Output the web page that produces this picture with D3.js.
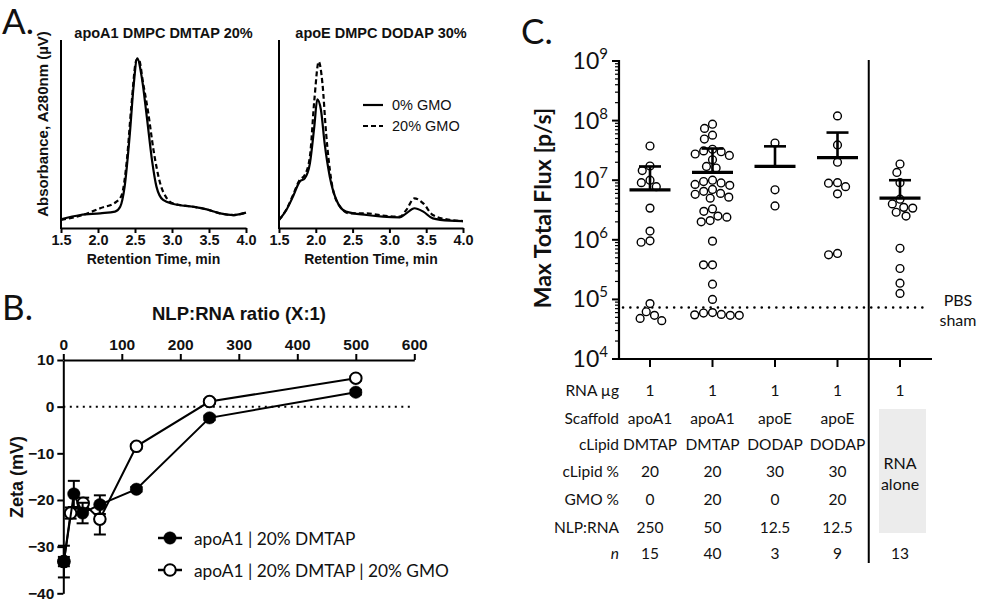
<!DOCTYPE html>
<html><head><meta charset="utf-8">
<script src="https://cdn.jsdelivr.net/npm/d3@7"></script>
<style>body{margin:0;background:#fff} svg{display:block}</style>
</head><body>
<svg id="fig" width="981" height="603"></svg>
<script>
// ---------------- DATA ----------------
// Panel A: chromatograms (retention time, min ; absorbance, arbitrary units)
const a1SolidT = [1.5,1.76,2.03,2.23,2.30,2.36,2.43,2.48,2.53,2.59,2.66,2.73,2.79,2.88,3.02,3.29,3.47,3.65,3.83,4.0];
const a1SolidV = [4.6,6.9,7.8,8.7,11.3,22,50,75,90.2,80.5,59,36,22,14.9,12.8,11.3,9.9,7.8,6.9,8.2];
const a1DashT  = [1.5,1.76,2.03,2.25,2.32,2.39,2.45,2.52,2.55,2.61,2.68,2.75,2.84,2.93,3.02,3.29,3.47,3.65,3.83,4.0];
const a1DashV  = [4.3,6.5,10.5,14,17.5,36,64.5,89.4,89.8,77,61,41.5,23.8,15.8,13,11.3,9.9,7.8,6.9,8.2];
const eSolidT = [1.5,1.6,1.69,1.78,1.85,1.92,1.98,2.02,2.07,2.12,2.19,2.28,2.41,2.69,2.91,3.14,3.23,3.34,3.46,3.59,3.82,4.0];
const eSolidV = [4.3,9.6,16.7,24.6,26.4,34.4,54,68.4,62.8,45,27.3,14.9,8.7,6.9,6.0,5.7,7.8,10.5,8.7,5.1,3.9,3.7];
const eDashT  = [1.5,1.6,1.69,1.78,1.85,1.92,1.98,2.04,2.09,2.14,2.21,2.30,2.46,2.69,2.91,3.14,3.23,3.34,3.46,3.59,3.82,4.0];
const eDashV  = [4.3,9.8,17.5,25.5,28.2,38,68,88.5,77,50.4,25.5,13.1,7.8,7.8,6.6,6.0,9.6,15.8,13.1,6.9,4.3,3.7];
const timeTicks = [1.5,2.0,2.5,3.0,3.5,4.0];

// Panel B: zeta potential vs NLP:RNA ratio
const ratioFilled = [1, 18, 33, 62.5, 125, 250, 500];
const zetaFilled  = [-33.2, -18.7, -22.8, -21.0, -17.7, -2.4, 3.1];
const errFilled   = [3.4, 2.8, 2.2, 2.0, 0.5, 0.5, 0.5];
const ratioOpen   = [1, 12.5, 34, 62.5, 125, 250, 500];
const zetaOpen    = [-33.2, -22.8, -20.7, -24.1, -8.5, 1.1, 6.1];
const errOpen     = [1.0, 1.2, 1.2, 3.3, 0.5, 0.5, 0.5];
const ratioTicks = [0,100,200,300,400,500,600];
const zetaTicks  = [10,0,-10,-20,-30,-40];

// Panel C: max total flux per group
const groupNames = ["apoA1 DMTAP 0%GMO","apoA1 DMTAP 20%GMO","apoE DODAP 0%GMO","apoE DODAP 20%GMO","RNA alone"];
const fluxG1 = [3.75e7,1.73e7,1.45e7,1.0e7,9.1e6,7.8e6,3.4e6,1.4e6,9.1e5,9.6e5,8.5e4,5.4e4,4.4e4,4.8e4,6.2e4];
const fluxG2 = [8.7e7,7.4e7,5.7e7,4.9e7,3.3e7,3.1e7,3.0e7,2.75e7,2.6e7,2.2e7,1.7e7,1.6e7,
                1.0e7,9.5e6,9e6,8.5e6,8.2e6,7e6,6.5e6,6e6,5.8e6,5.2e6,5e6,3.3e6,3e6,2.5e6,2.4e6,2.1e6,2e6,
                9.5e5,3.8e5,3.8e5,1.8e5,1.0e5,6e4,5.6e4,5.4e4,5.4e4,5.5e4,5.9e4];
const fluxG3 = [4.2e7,6.9e6,3.7e6];
const fluxG4 = [1.2e8,3.9e7,2.0e7,9.1e6,8.9e6,7.8e6,5.9e6,5.9e5,5.6e5];
const fluxG5 = [1.87e7,1.35e7,9.1e6,4.8e6,4.0e6,3.5e6,3.4e6,2.9e6,2.5e6,7.2e5,3.3e5,1.87e5,1.26e5];
const fluxMean  = [6.9e6,1.35e7,1.7e7,2.4e7,5.0e6];
const fluxUpper = [1.7e7,3.4e7,3.7e7,6.3e7,1.0e7];
const pbsSham = 7.3e4;
const fluxExps = [4,5,6,7,8,9];

// Panel C table
const rowLabels = ["RNA µg","Scaffold","cLipid","cLipid %","GMO %","NLP:RNA","n"];
const rowRNA      = ["1","1","1","1","1"];
const rowScaffold = ["apoA1","apoA1","apoE","apoE",""];
const rowClipid   = ["DMTAP","DMTAP","DODAP","DODAP",""];
const rowClipidPc = ["20","20","30","30",""];
const rowGMO      = ["0","20","0","20",""];
const rowNLP      = ["250","50","12.5","12.5",""];
const rowN        = ["15","40","3","9","13"];

// ---------------- DRAWING ----------------
const svg = d3.select("#fig");
const ARIAL = "'Liberation Sans', Arial, sans-serif";
const CAL = "Lato, 'Open Sans', sans-serif";

function panelLetter(t, x, y) {
  svg.append("text").attr("x", x).attr("y", y).text(t)
    .attr("font-family", CAL).attr("font-size", 35).attr("fill", "#111");
}

// ---- Panel A ----
panelLetter("A.", 2, 34);
const yA = d3.scaleLinear().domain([0,100]).range([228,40]);
function chromPanel(x0, x1, title, solidT, solidV, dashT, dashV) {
  const x = d3.scaleLinear().domain([1.5,4.0]).range([x0,x1]);
  const g = svg.append("g");
  const ax = g.append("g").attr("transform", `translate(0,${yA(0)})`)
    .call(d3.axisBottom(x).tickValues(timeTicks).tickFormat(d3.format(".1f")).tickSize(5).tickPadding(2).tickSizeOuter(0));
  ax.select(".domain").attr("stroke-width", 2);
  ax.selectAll(".tick line").attr("stroke-width", 2);
  ax.selectAll("text").attr("font-family", ARIAL).attr("font-weight", "bold").attr("font-size", 14.5).attr("fill","#111");
  g.append("line").attr("x1", x0).attr("x2", x0).attr("y1", yA(100)).attr("y2", yA(0)+1)
    .attr("stroke", "#000").attr("stroke-width", 2);
  const line = d3.line().curve(d3.curveMonotoneX);
  g.append("path").attr("d", line(dashT.map((t,i)=>[x(t), yA(dashV[i])])))
    .attr("fill","none").attr("stroke","#000").attr("stroke-width",2.2).attr("stroke-dasharray","5,3");
  g.append("path").attr("d", line(solidT.map((t,i)=>[x(t), yA(solidV[i])])))
    .attr("fill","none").attr("stroke","#000").attr("stroke-width",2.2);
  g.append("text").attr("x", (x0+x1)/2+10).attr("y", 38).attr("text-anchor","middle").text(title)
    .attr("font-family", ARIAL).attr("font-weight","bold").attr("font-size",14.5).attr("fill","#111");
  g.append("text").attr("x", (x0+x1)/2).attr("y", 264).attr("text-anchor","middle").text("Retention Time, min")
    .attr("font-family", ARIAL).attr("font-weight","bold").attr("font-size",14).attr("fill","#111");
  return x;
}
chromPanel(61, 246, "apoA1 DMPC DMTAP 20%", a1SolidT, a1SolidV, a1DashT, a1DashV);
chromPanel(279, 463, "apoE DMPC DODAP 30%", eSolidT, eSolidV, eDashT, eDashV);
svg.append("text").attr("transform","translate(48,124) rotate(-90)").attr("text-anchor","middle")
  .text("Absorbance, A280nm (µV)").attr("font-family", ARIAL).attr("font-weight","bold").attr("font-size",15).attr("fill","#111");
// legend A
[["0% GMO",105,null],["20% GMO",126,"5,3"]].forEach(([t,y,da])=>{
  svg.append("line").attr("x1",363).attr("x2",383).attr("y1",y).attr("y2",y).attr("stroke","#000")
    .attr("stroke-width",2.2).attr("stroke-dasharray",da);
  svg.append("text").attr("x",392).attr("y",y+5).text(t).attr("font-family",ARIAL).attr("font-size",14.5).attr("fill","#111");
});

// ---- Panel B ----
panelLetter("B.", 2, 320);
const xB = d3.scaleLinear().domain([0,600]).range([63.3,414.3]);
const yB = d3.scaleLinear().domain([-40,10]).range([593.3,360]);
const axBx = svg.append("g").attr("transform",`translate(0,${yB(10)})`)
  .call(d3.axisTop(xB).tickValues(ratioTicks).tickSize(6).tickPadding(4).tickSizeOuter(0));
axBx.select(".domain").attr("stroke-width",2);
axBx.selectAll(".tick line").attr("stroke-width",2);
axBx.selectAll("text").attr("font-family",ARIAL).attr("font-weight","bold").attr("font-size",15.5).attr("fill","#111");
const axBy = svg.append("g").attr("transform",`translate(${xB(0)},0)`)
  .call(d3.axisLeft(yB).tickValues(zetaTicks).tickSize(6).tickSizeOuter(0));
axBy.select(".domain").attr("stroke-width",2);
axBy.selectAll(".tick line").attr("stroke-width",2);
axBy.selectAll("text").attr("font-family",ARIAL).attr("font-weight","bold").attr("font-size",15.5).attr("fill","#111");
svg.append("text").attr("x",239).attr("y",320).attr("text-anchor","middle").text("NLP:RNA ratio (X:1)")
  .attr("font-family",ARIAL).attr("font-weight","bold").attr("font-size",18.5).attr("fill","#111");
svg.append("text").attr("transform","translate(23,477) rotate(-90)").attr("text-anchor","middle").text("Zeta (mV)")
  .attr("font-family",ARIAL).attr("font-weight","bold").attr("font-size",18).attr("fill","#111");
svg.append("line").attr("x1",xB(0)).attr("x2",xB(600)).attr("y1",yB(0)).attr("y2",yB(0))
  .attr("stroke","#000").attr("stroke-width",2).attr("stroke-dasharray","2,4.5");
const lineB = d3.line();
function seriesB(xs, ys, es, filled) {
  const g = svg.append("g");
  xs.forEach((xv,i)=>{
    const cx = xB(xv);
    g.append("line").attr("x1",cx).attr("x2",cx).attr("y1",yB(ys[i]-es[i])).attr("y2",yB(ys[i]+es[i])).attr("stroke","#000").attr("stroke-width",2);
    [ys[i]-es[i], ys[i]+es[i]].forEach(v=>g.append("line").attr("x1",cx-6).attr("x2",cx+6).attr("y1",yB(v)).attr("y2",yB(v)).attr("stroke","#000").attr("stroke-width",2));
  });
  g.append("path").attr("d", lineB(xs.map((xv,i)=>[xB(xv), yB(ys[i])]))).attr("fill","none").attr("stroke","#000").attr("stroke-width",2);
  xs.forEach((xv,i)=>{
    g.append("circle").attr("cx",xB(xv)).attr("cy",yB(ys[i])).attr("r", filled?6.2:5.8)
      .attr("fill", filled?"#000":"#fff").attr("stroke","#000").attr("stroke-width", filled?0.5:2);
  });
}
seriesB(ratioOpen, zetaOpen, errOpen, false);
seriesB(ratioFilled, zetaFilled, errFilled, true);
// legend B
[["apoA1 | 20% DMTAP",538,true],["apoA1 | 20% DMTAP | 20% GMO",570,false]].forEach(([t,y,f])=>{
  svg.append("line").attr("x1",158).attr("x2",182).attr("y1",y).attr("y2",y).attr("stroke","#000").attr("stroke-width",2.5);
  svg.append("circle").attr("cx",170).attr("cy",y).attr("r",f?6.2:5.8).attr("fill",f?"#000":"#fff").attr("stroke","#000").attr("stroke-width",f?0.5:2);
  svg.append("text").attr("x",194).attr("y",y+6.5).text(t).attr("font-family",CAL).attr("font-size",17.3).attr("fill","#111");
});

// ---- Panel C ----
panelLetter("C.", 521, 44);
const yC = d3.scaleLog().domain([1e4,1e9]).range([359,61]);
const xC = d3.scalePoint().domain(groupNames).range([650,900]);
const axisLeftX = 619;
// minor & major ticks
const tickG = svg.append("g");
fluxExps.forEach(e=>{
  for (let k=1;k<10;k++){
    const v = k*Math.pow(10,e);
    if (v>1e9) break;
    tickG.append("line").attr("x1",axisLeftX-(k===1?7:4)).attr("x2",axisLeftX).attr("y1",yC(v)).attr("y2",yC(v))
      .attr("stroke","#000").attr("stroke-width",k===1?2:1.2);
  }
  const t = tickG.append("text").attr("x",608).attr("y",yC(Math.pow(10,e))+8).attr("text-anchor","end")
    .attr("font-family",CAL).attr("font-size",23).attr("fill","#111");
  t.append("tspan").text("10");
  t.append("tspan").attr("dy",-10).attr("font-size",15).text(String(e));
});
svg.append("line").attr("x1",axisLeftX).attr("x2",axisLeftX).attr("y1",yC(1e9)-1).attr("y2",yC(1e4)+1).attr("stroke","#000").attr("stroke-width",2.2);
svg.append("line").attr("x1",axisLeftX).attr("x2",932).attr("y1",yC(1e4)).attr("y2",yC(1e4)).attr("stroke","#000").attr("stroke-width",2.2);
groupNames.forEach(gn=>{
  svg.append("line").attr("x1",xC(gn)).attr("x2",xC(gn)).attr("y1",yC(1e4)).attr("y2",yC(1e4)+8).attr("stroke","#000").attr("stroke-width",2);
});
svg.append("text").attr("transform","translate(551,208) rotate(-90)").attr("text-anchor","middle").text("Max Total Flux [p/s]")
  .attr("font-family",CAL).attr("font-weight","bold").attr("font-size",23).attr("fill","#111");
// divider
const divX = (xC(groupNames[3])+xC(groupNames[4]))/2;
svg.append("line").attr("x1",divX).attr("x2",divX).attr("y1",60).attr("y2",563).attr("stroke","#000").attr("stroke-width",2);
// PBS sham
svg.append("line").attr("x1",axisLeftX+4).attr("x2",929).attr("y1",yC(pbsSham)).attr("y2",yC(pbsSham))
  .attr("stroke","#000").attr("stroke-width",2.5).attr("stroke-dasharray","0.1,7.2").attr("stroke-linecap","round");
svg.append("text").attr("x",958).attr("y",yC(pbsSham)-2).attr("text-anchor","middle").text("PBS").attr("font-family",CAL).attr("font-size",16).attr("fill","#111");
svg.append("text").attr("x",958).attr("y",yC(pbsSham)+18).attr("text-anchor","middle").text("sham").attr("font-family",CAL).attr("font-size",16).attr("fill","#111");

// beeswarm placement
const R = 3.9, D = 2*R+1.2;
function swarm(vals, cx) {
  const pts = vals.map(v=>({v, y:yC(v)})).sort((a,b)=>a.y-b.y);
  const placed = [];
  pts.forEach(p=>{
    const forb = [];
    placed.forEach(q=>{
      const dy = Math.abs(q.y-p.y);
      if (dy < D) { const w = Math.sqrt(D*D-dy*dy); forb.push([q.x-w, q.x+w]); }
    });
    const cands = [cx];
    forb.forEach(([a,b])=>{cands.push(a); cands.push(b);});
    cands.sort((a,b)=>Math.abs(a-cx)-Math.abs(b-cx));
    p.x = cands.find(c=>forb.every(([a,b])=> c<=a+1e-6 || c>=b-1e-6));
    placed.push(p);
  });
  return placed;
}
const allFlux = [fluxG1, fluxG2, fluxG3, fluxG4, fluxG5];
allFlux.forEach((vals,i)=>{
  const cx = xC(groupNames[i]);
  const g = svg.append("g");
  swarm(vals, cx).forEach(p=>{
    g.append("circle").attr("cx",p.x).attr("cy",p.y).attr("r",R).attr("fill","#fff").attr("stroke","#000").attr("stroke-width",1.4);
  });
  // mean & upper SD
  g.append("line").attr("x1",cx).attr("x2",cx).attr("y1",yC(fluxMean[i])).attr("y2",yC(fluxUpper[i])).attr("stroke","#000").attr("stroke-width",2.6);
  g.append("line").attr("x1",cx-11).attr("x2",cx+11).attr("y1",yC(fluxUpper[i])).attr("y2",yC(fluxUpper[i])).attr("stroke","#000").attr("stroke-width",2.6);
  g.append("line").attr("x1",cx-20.5).attr("x2",cx+20.5).attr("y1",yC(fluxMean[i])).attr("y2",yC(fluxMean[i])).attr("stroke","#000").attr("stroke-width",3.2);
});

// table
const rowY = [390,418,444,471,499,527,553];
const rows = [rowRNA,rowScaffold,rowClipid,rowClipidPc,rowGMO,rowNLP,rowN];
svg.append("rect").attr("x",879).attr("y",409).attr("width",47).attr("height",124).attr("fill","#ececec");
svg.append("text").attr("x",xC(groupNames[4])).attr("y",469).attr("text-anchor","middle").text("RNA").attr("font-family",CAL).attr("font-size",16).attr("fill","#111");
svg.append("text").attr("x",xC(groupNames[4])).attr("y",490).attr("text-anchor","middle").text("alone").attr("font-family",CAL).attr("font-size",16).attr("fill","#111");
rowLabels.forEach((lab,r)=>{
  svg.append("text").attr("x",619).attr("y",rowY[r]+6).attr("text-anchor","end").text(lab)
    .attr("font-family",CAL).attr("font-size",15.5).attr("font-style", lab==="n"?"italic":"normal").attr("fill","#111");
  rows[r].forEach((v,i)=>{
    if (!v) return;
    svg.append("text").attr("x",xC(groupNames[i])).attr("y",rowY[r]+6).attr("text-anchor","middle").text(v)
      .attr("font-family",CAL).attr("font-size",15.5).attr("fill","#111");
  });
});
</script>
</body></html>
